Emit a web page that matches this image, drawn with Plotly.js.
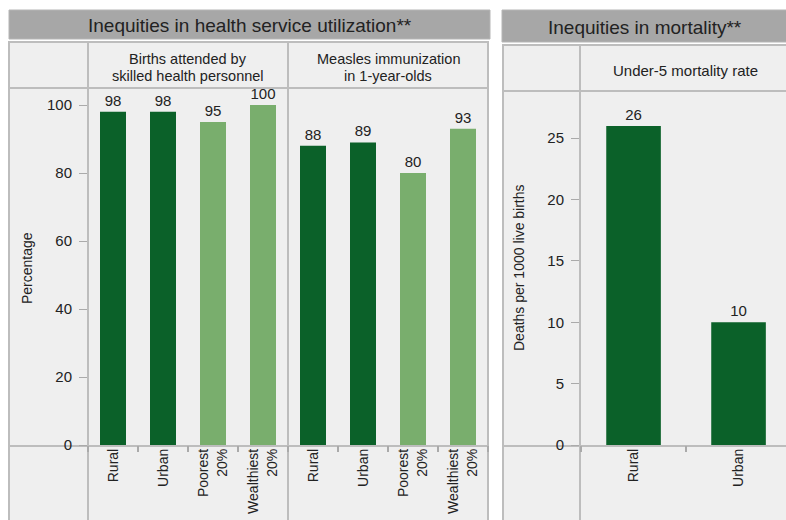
<!DOCTYPE html>
<html><head><meta charset="utf-8">
<script src="https://cdn.plot.ly/plotly-3.0.1.min.js"></script>
<style>html,body{margin:0;padding:0;background:#fff;} #chart{width:786px;height:520px;}</style>
</head><body><div id="chart"></div>
<script>
// ---- data ----
const categories = ['Rural', 'Urban', 'Poorest<br>20%', 'Wealthiest<br>20%'];
const categoryGroup = ['area', 'area', 'wealth', 'wealth'];
const birthsAttended = [98, 98, 95, 100];
const measlesImmunization = [88, 89, 80, 93];
const mortalityCategories = ['Rural', 'Urban'];
const under5Mortality = [26, 10];
const percentTicks = [0, 20, 40, 60, 80, 100];
const mortalityTicks = [0, 5, 10, 15, 20, 25];
const headerLeft = 'Inequities in health service utilization**';
const headerRight = 'Inequities in mortality**';
const panelTitle1 = ['Births attended by', 'skilled health personnel'];
const panelTitle2 = ['Measles immunization', 'in 1-year-olds'];
const panelTitle3 = 'Under-5 mortality rate';
const yTitles = ['Percentage', 'Deaths per 1000 live births'];

// ---- style ----
const W = 786, H = 520;
const px = x => x / W, py = y => 1 - y / H;
const DARK = '#0b6129', LIGHT = '#79ae6d';
const FONT = 'Liberation Sans, Arial, sans-serif';
const TXT = '#222';
const FRAME = '#bdbdbd', BODY = '#efefef', HEAD = '#a7a7a7';
const groupColor = {area: DARK, wealth: LIGHT};
const colors = categoryGroup.map(g => groupColor[g]);

const barText = {size: 15, color: TXT, family: FONT};
const traces = [
  {type: 'bar', x: categories, y: birthsAttended, xaxis: 'x', yaxis: 'y', width: 0.52,
   marker: {color: colors}, text: birthsAttended.map(String), textposition: 'outside',
   textfont: barText, cliponaxis: false, hoverinfo: 'x+y'},
  {type: 'bar', x: categories, y: measlesImmunization, xaxis: 'x2', yaxis: 'y', width: 0.52,
   marker: {color: colors}, text: measlesImmunization.map(String), textposition: 'outside',
   textfont: barText, cliponaxis: false, hoverinfo: 'x+y'},
  {type: 'bar', x: mortalityCategories, y: under5Mortality, xaxis: 'x3', yaxis: 'y2', width: 0.52,
   marker: {color: DARK}, text: under5Mortality.map(String), textposition: 'outside',
   textfont: barText, cliponaxis: false, hoverinfo: 'x+y'}
];

function rect(x0, y0, x1, y1, fill, line, lw) {
  return {type: 'rect', xref: 'paper', yref: 'paper', layer: 'below',
    x0: px(x0), x1: px(x1), y0: py(y0), y1: py(y1), fillcolor: fill,
    line: {color: line || fill, width: lw || 0}};
}
function seg(x0, y0, x1, y1) {
  return {type: 'line', xref: 'paper', yref: 'paper', layer: 'below',
    x0: px(x0), x1: px(x1), y0: py(y0), y1: py(y1), line: {color: FRAME, width: 2}};
}
const shapes = [
  rect(9, 10, 490, 39, HEAD, '#b5b5b5', 1),
  rect(9, 42, 488, 540, BODY, FRAME, 2),
  seg(9, 88, 488, 88), seg(9, 446, 488, 446),
  seg(88, 42, 88, 520), seg(288, 42, 288, 520),
  rect(502, 10, 800, 42, HEAD, '#b5b5b5', 1),
  rect(503, 45, 800, 540, BODY, FRAME, 2),
  seg(503, 91, 786, 91), seg(503, 446, 786, 446),
  seg(580, 45, 580, 520)
];

function ann(text, x, y, size, angle) {
  return {text: text, xref: 'paper', yref: 'paper', x: px(x), y: py(y),
    xanchor: 'center', yanchor: 'middle', showarrow: false, textangle: angle || 0,
    font: {family: FONT, size: size, color: TXT}};
}
const annotations = [
  ann(headerLeft, 249.5, 25, 19),
  ann(headerRight, 645, 27, 19),
  ann(panelTitle1[0], 188, 59, 14.5),
  ann(panelTitle1[1], 188, 75.5, 14.5),
  ann(panelTitle2[0], 388, 59, 14.5),
  ann(panelTitle2[1], 388, 75.5, 14.5),
  ann(panelTitle3, 685, 71, 15),
  ann(yTitles[0], 27, 268, 14, -90),
  ann(yTitles[1], 519, 268, 14, -90)
];

const tickFont = {family: FONT, size: 15, color: TXT};
const catFont = {family: FONT, size: 14, color: TXT};
const xCommon = {type: 'category', tickangle: -90, ticks: 'outside', tickson: 'boundaries',
  ticklen: 6, tickcolor: '#aaa', tickwidth: 2, showline: false, showgrid: false, zeroline: false,
  tickfont: catFont, fixedrange: true};
const yCommon = {ticks: 'outside', ticklen: 8, tickcolor: '#aaa', tickwidth: 1, showline: false,
  showgrid: false, zeroline: false, tickfont: tickFont, fixedrange: true, ticklabelstandoff: 4};

const layout = {
  width: W, height: H, margin: {l: 0, r: 0, t: 0, b: 0},
  paper_bgcolor: '#fff', plot_bgcolor: 'rgba(0,0,0,0)', showlegend: false,
  font: {family: FONT, color: TXT},
  xaxis: Object.assign({}, xCommon, {domain: [px(88), px(288)], anchor: 'y', range: [-0.5, 3.5]}),
  xaxis2: Object.assign({}, xCommon, {domain: [px(288), px(488)], anchor: 'y', range: [-0.5, 3.5]}),
  xaxis3: Object.assign({}, xCommon, {domain: [px(580), px(786)], anchor: 'y2', range: [-0.51, 1.452]}),
  yaxis: Object.assign({}, yCommon, {domain: [py(445), py(88)], anchor: 'x', range: [0, 105],
    tickvals: percentTicks}),
  yaxis2: Object.assign({}, yCommon, {domain: [py(445), py(91)], anchor: 'x3', range: [0, 28.85],
    tickvals: mortalityTicks}),
  shapes: shapes, annotations: annotations, bargap: 0.48
};
Plotly.newPlot('chart', traces, layout, {displayModeBar: false, staticPlot: true});
</script></body></html>
